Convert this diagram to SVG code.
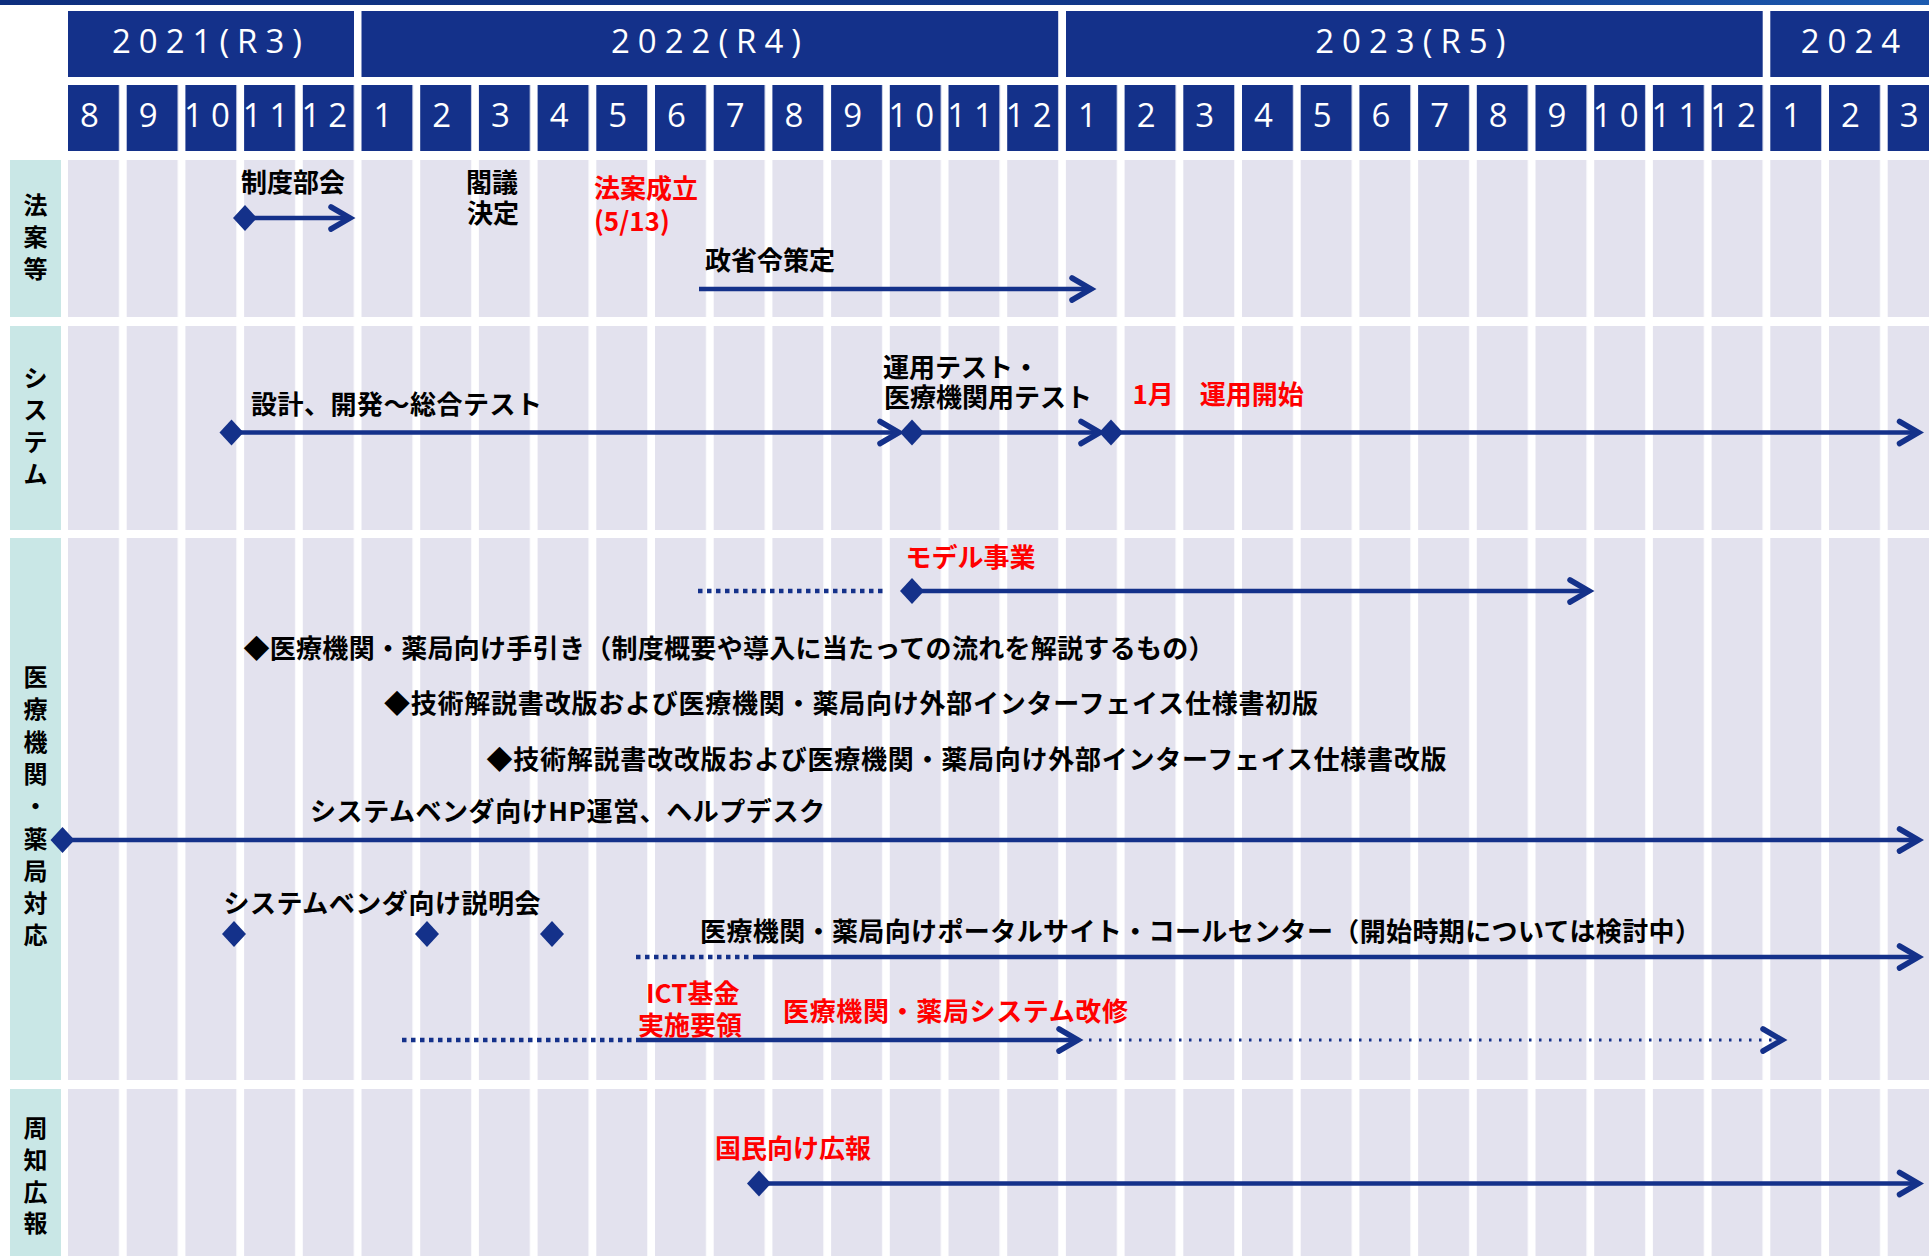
<svg xmlns="http://www.w3.org/2000/svg" xmlns:xlink="http://www.w3.org/1999/xlink" width="1929" height="1256" viewBox="0 0 1929 1256">
<defs>
<style>
.cjk{font-family:"Noto Sans CJK JP","Noto Sans CJK SC",sans-serif;font-weight:700;font-size:26px;fill:#000}
.red{fill:#FF0000}
.hdr{font-family:"Open Sans","DejaVu Sans",sans-serif;font-size:33px;fill:#fff;letter-spacing:8px;text-anchor:middle}
.lbl{font-size:24px;text-anchor:middle}
.ln{stroke:#14318A;stroke-width:4.5;fill:none}
.arr{marker-end:url(#chev)}
.dot{stroke-dasharray:4.5 4.5}
.fdot{stroke-width:3;stroke-dasharray:2.5 7.5}
.dia{fill:#14318A}
.lb{fill:#C9E7E6}
.yb{fill:#14318A}
</style>
<linearGradient id="topg" x1="0" x2="1" y1="0" y2="0">
<stop offset="0" stop-color="#0E2F7E"/>
<stop offset="0.7" stop-color="#123A8C"/>
<stop offset="1" stop-color="#1C5BB0"/>
</linearGradient>
<pattern id="gridCol" patternUnits="userSpaceOnUse" x="68" y="0" width="58.7" height="10">
<rect x="0" y="0" width="51" height="10" fill="#E3E2EE"/>
</pattern>
<pattern id="hdrCol" patternUnits="userSpaceOnUse" x="68" y="0" width="58.7" height="10">
<rect x="0" y="0" width="51" height="10" fill="#14318A"/>
</pattern>
<marker id="chev" markerUnits="userSpaceOnUse" viewBox="-30 -16 40 32" markerWidth="40" markerHeight="32" refX="0" refY="0" orient="auto">
<path d="M-19,-11 L0,0 L-19,11" fill="none" stroke="#14318A" stroke-width="5.5" stroke-linecap="round" stroke-linejoin="miter"/>
</marker>
<path id="dm" d="M0,-13L12,0L0,13L-12,0Z"/>
</defs>

<rect x="0" y="0" width="1929" height="1256" fill="#fff"/>
<rect x="0" y="0" width="1929" height="5" fill="url(#topg)"/>

<g id="header">
<rect class="yb" x="68" y="11" width="286" height="66"/>
<rect class="yb" x="361.5" y="11" width="696.7" height="66"/>
<rect class="yb" x="1066" y="11" width="696.7" height="66"/>
<rect class="yb" x="1770.3" y="11" width="170" height="66"/>
<text class="hdr" x="211" y="53">2021(R3)</text>
<text class="hdr" x="710" y="53">2022(R4)</text>
<text class="hdr" x="1414.3" y="53">2023(R5)</text>
<text class="hdr" x="1854.4" y="53">2024</text>
<rect x="68" y="85" width="1861" height="66" fill="url(#hdrCol)"/>
<text class="hdr" y="127"><tspan x="93.5">8</tspan><tspan x="152.2">9</tspan><tspan x="210.9">10</tspan><tspan x="269.6">11</tspan><tspan x="328.3">12</tspan><tspan x="387">1</tspan><tspan x="445.7">2</tspan><tspan x="504.4">3</tspan><tspan x="563.1">4</tspan><tspan x="621.8">5</tspan><tspan x="680.5">6</tspan><tspan x="739.2">7</tspan><tspan x="797.9">8</tspan><tspan x="856.6">9</tspan><tspan x="915.3">10</tspan><tspan x="974">11</tspan><tspan x="1032.7">12</tspan><tspan x="1091.4">1</tspan><tspan x="1150.1">2</tspan><tspan x="1208.8">3</tspan><tspan x="1267.5">4</tspan><tspan x="1326.2">5</tspan><tspan x="1384.9">6</tspan><tspan x="1443.6">7</tspan><tspan x="1502.3">8</tspan><tspan x="1561">9</tspan><tspan x="1619.7">10</tspan><tspan x="1678.4">11</tspan><tspan x="1737.1">12</tspan><tspan x="1795.8">1</tspan><tspan x="1854.5">2</tspan><tspan x="1913.2">3</tspan></text>
</g>

<g id="rows">
<rect x="68" y="160" width="1861" height="157" fill="url(#gridCol)"/>
<rect x="68" y="326" width="1861" height="204" fill="url(#gridCol)"/>
<rect x="68" y="538" width="1861" height="542" fill="url(#gridCol)"/>
<rect x="68" y="1089" width="1861" height="167" fill="url(#gridCol)"/>
</g>

<g id="lane-houan">
<rect class="lb" x="10" y="160" width="51" height="157"/>
<text class="cjk lbl"><tspan x="35.5" y="214">法</tspan><tspan x="35.5" y="246">案</tspan><tspan x="35.5" y="278">等</tspan></text>
</g>
<g id="lane-system">
<rect class="lb" x="10" y="326" width="51" height="204"/>
<text class="cjk lbl"><tspan x="35.5" y="387">シ</tspan><tspan x="35.5" y="419">ス</tspan><tspan x="35.5" y="451">テ</tspan><tspan x="35.5" y="483">ム</tspan></text>
</g>
<g id="lane-iryo">
<rect class="lb" x="10" y="538" width="51" height="542"/>
<text class="cjk lbl"><tspan x="35.5" y="686">医</tspan><tspan x="35.5" y="718">療</tspan><tspan x="35.5" y="750.5">機</tspan><tspan x="35.5" y="783">関</tspan><tspan x="35.5" y="815">・</tspan><tspan x="35.5" y="847.5">薬</tspan><tspan x="35.5" y="880">局</tspan><tspan x="35.5" y="912">対</tspan><tspan x="35.5" y="944">応</tspan></text>
</g>
<g id="lane-shuchi">
<rect class="lb" x="10" y="1089" width="51" height="167"/>
<text class="cjk lbl"><tspan x="35.5" y="1137">周</tspan><tspan x="35.5" y="1168.5">知</tspan><tspan x="35.5" y="1200.5">広</tspan><tspan x="35.5" y="1232">報</tspan></text>
</g>

<g id="connectors">
<path class="ln arr" d="M245,218H350"/>
<path class="ln arr" d="M699,289H1091"/>
<path class="ln arr" d="M231.5,432.5H899"/>
<path class="ln arr" d="M912,432.5H1100"/>
<path class="ln arr" d="M1111,432.5H1918.5"/>
<path class="ln dot" d="M698,591H886"/>
<path class="ln arr" d="M912,591H1589"/>
<path class="ln arr" d="M62.5,840H1918.5"/>
<path class="ln dot" d="M636,957H757"/>
<path class="ln arr" d="M757,957H1918.5"/>
<path class="ln dot" d="M402,1040H636"/>
<path class="ln arr" d="M636,1040H1078"/>
<path class="ln fdot arr" d="M1089,1040H1782"/>
<path class="ln arr" d="M759,1183.5H1918.5"/>
</g>

<g id="n-seido">
<use href="#dm" class="dia" x="245" y="218"/>
<text class="cjk" x="241" y="191.5">制度部会</text>
</g>
<g id="n-kakugi">
<text class="cjk"><tspan x="466" y="191.5">閣議</tspan><tspan x="467" y="223">決定</tspan></text>
</g>
<g id="n-seiritsu">
<text class="cjk red"><tspan x="594" y="197.5">法案成立</tspan><tspan x="594" y="231">(5/13)</tspan></text>
</g>
<g id="n-seishorei">
<text class="cjk" x="705" y="270">政省令策定</text>
</g>
<g id="n-sekkei">
<use href="#dm" class="dia" x="231.5" y="432.5"/>
<text class="cjk" x="251" y="414" textLength="291">設計、開発～総合テスト</text>
</g>
<g id="n-unyotest">
<use href="#dm" class="dia" x="912" y="432.5"/>
<text class="cjk"><tspan x="883" y="377">運用テスト・</tspan><tspan x="884" y="406.5">医療機関用テスト</tspan></text>
</g>
<g id="n-kaishi">
<use href="#dm" class="dia" x="1111" y="432.5"/>
<text class="cjk red" x="1132.5" y="404">1月　運用開始</text>
</g>
<g id="n-model">
<use href="#dm" class="dia" x="912" y="591"/>
<text class="cjk red" x="905.5" y="567">モデル事業</text>
</g>
<g id="n-tebiki">
<text class="cjk" x="243.5" y="657.5" textLength="971">◆医療機関・薬局向け手引き（制度概要や導入に当たっての流れを解説するもの）</text>
</g>
<g id="n-shoban">
<text class="cjk" x="384" y="713" textLength="934">◆技術解説書改版および医療機関・薬局向け外部インターフェイス仕様書初版</text>
</g>
<g id="n-kaiban">
<text class="cjk" x="486.5" y="769" textLength="960">◆技術解説書改改版および医療機関・薬局向け外部インターフェイス仕様書改版</text>
</g>
<g id="n-hp">
<use href="#dm" class="dia" x="62.5" y="840"/>
<text class="cjk" x="310" y="821" textLength="515">システムベンダ向けHP運営、ヘルプデスク</text>
</g>
<g id="n-setsumeikai">
<use href="#dm" class="dia" x="234" y="934"/>
<use href="#dm" class="dia" x="427" y="934"/>
<use href="#dm" class="dia" x="552" y="934"/>
<text class="cjk" x="223.5" y="913" textLength="317">システムベンダ向け説明会</text>
</g>
<g id="n-portal">
<text class="cjk" x="700" y="941" textLength="1001">医療機関・薬局向けポータルサイト・コールセンター（開始時期については検討中）</text>
</g>
<g id="n-ict">
<text class="cjk red"><tspan x="646" y="1003">ICT基金</tspan><tspan x="638" y="1035">実施要領</tspan></text>
</g>
<g id="n-kaishu">
<text class="cjk red" x="783" y="1021" textLength="345">医療機関・薬局システム改修</text>
</g>
<g id="n-kouhou">
<use href="#dm" class="dia" x="759" y="1183.5"/>
<text class="cjk red" x="715" y="1157.5">国民向け広報</text>
</g>
</svg>
